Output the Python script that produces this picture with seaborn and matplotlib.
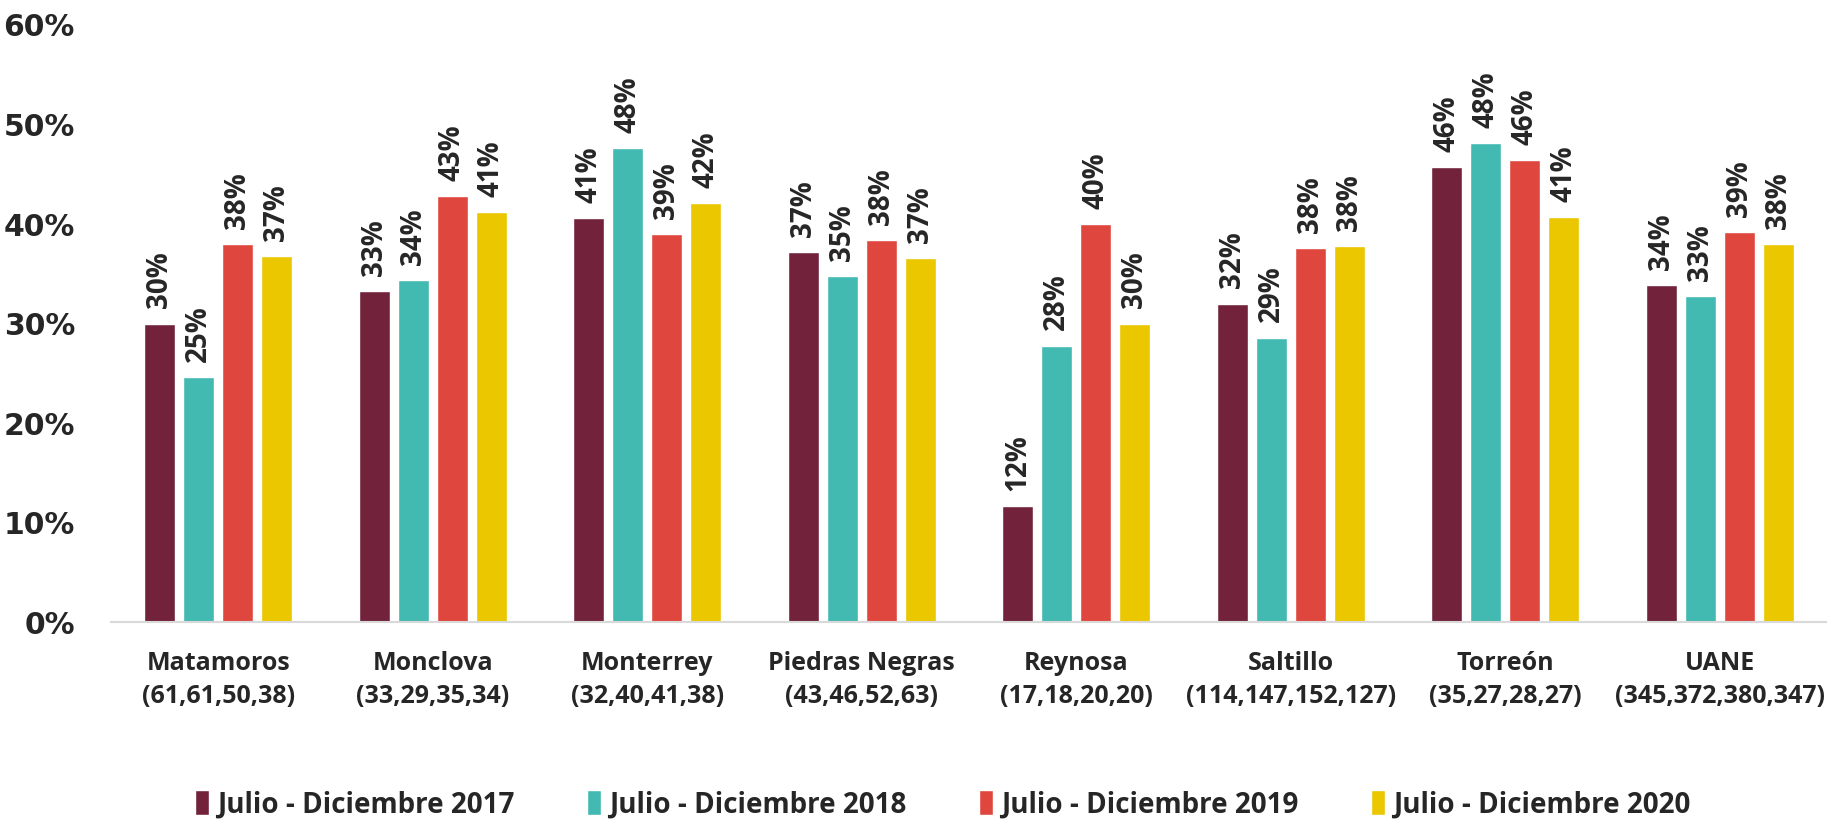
import pandas as pd
import numpy as np
import matplotlib
matplotlib.use("Agg")
import matplotlib.pyplot as plt
import seaborn as sns

# campus names and sample sizes shown under each group
campus = ["Matamoros", "Monclova", "Monterrey", "Piedras Negras",
          "Reynosa", "Saltillo", "Torreón", "UANE"]
sizes = ["(61,61,50,38)", "(33,29,35,34)", "(32,40,41,38)", "(43,46,52,63)",
         "(17,18,20,20)", "(114,147,152,127)", "(35,27,28,27)", "(345,372,380,347)"]

periods = ["Julio - Diciembre 2017", "Julio - Diciembre 2018",
           "Julio - Diciembre 2019", "Julio - Diciembre 2020"]

# percentages
p2017 = [30.0, 33.3, 40.6, 37.2, 11.7, 32.0, 45.7, 33.9]
p2018 = [24.6, 34.4, 47.6, 34.8, 27.8, 28.6, 48.1, 32.8]
p2019 = [38.0, 42.8, 39.0, 38.4, 40.0, 37.6, 46.4, 39.2]
p2020 = [36.8, 41.2, 42.1, 36.6, 30.0, 37.8, 40.7, 38.0]

colors = ["#72233B", "#42B9B1", "#DF473E", "#EBC700"]

labels = [c + "\n" + s for c, s in zip(campus, sizes)]
rows = []
for per, vals in zip(periods, [p2017, p2018, p2019, p2020]):
    for lab, v in zip(labels, vals):
        rows.append({"campus": lab, "periodo": per, "valor": v / 100})
df = pd.DataFrame(rows)

sns.set_style("white")
plt.rcParams["font.family"] = ["Open Sans", "DejaVu Sans"]

fig = plt.figure(figsize=(18.27, 8.21), dpi=100)
ax = fig.add_axes([0.0608, 0.2418, 0.9392, 0.7279])

sns.barplot(data=df, x="campus", y="valor", hue="periodo", palette=colors,
            width=0.728, gap=0.21, ax=ax, errorbar=None, saturation=1)

for cont in ax.containers:
    ax.bar_label(cont, labels=[f"{b.get_height():.0%}" for b in cont],
                 rotation=90, padding=11, fontsize=20, fontweight="bold")

ax.set_ylim(0, 0.6)
ax.set_xlim(-0.5, 7.5)
ax.set_yticks(np.arange(0, 0.61, 0.1))
ax.set_yticklabels([f"{int(round(t*100))}%" for t in np.arange(0, 0.61, 0.1)],
                   family="DejaVu Sans", fontweight="bold", fontsize=21.5)
ax.tick_params(axis="y", length=0, pad=26)
ax.tick_params(axis="x", length=0, pad=20.5, labelsize=18)
for t in ax.get_xticklabels():
    t.set_fontweight("bold")
    t.set_linespacing(1.4)
ax.set_xlabel("")
ax.set_ylabel("")
for s in ["top", "right", "left"]:
    ax.spines[s].set_visible(False)
ax.spines["bottom"].set_color("#d9d9d9")
ax.spines["bottom"].set_linewidth(1.5)

handles, labs = ax.get_legend_handles_labels()
ax.legend_.remove()
fig.legend(handles, labs, loc="center", bbox_to_anchor=(0.516, 0.02), ncol=4,
           frameon=False, prop={"weight": "bold", "size": 20},
           handlelength=0.5, handleheight=1.0, handletextpad=0.3,
           columnspacing=2.6)

fig.savefig("out.png", dpi=100)
